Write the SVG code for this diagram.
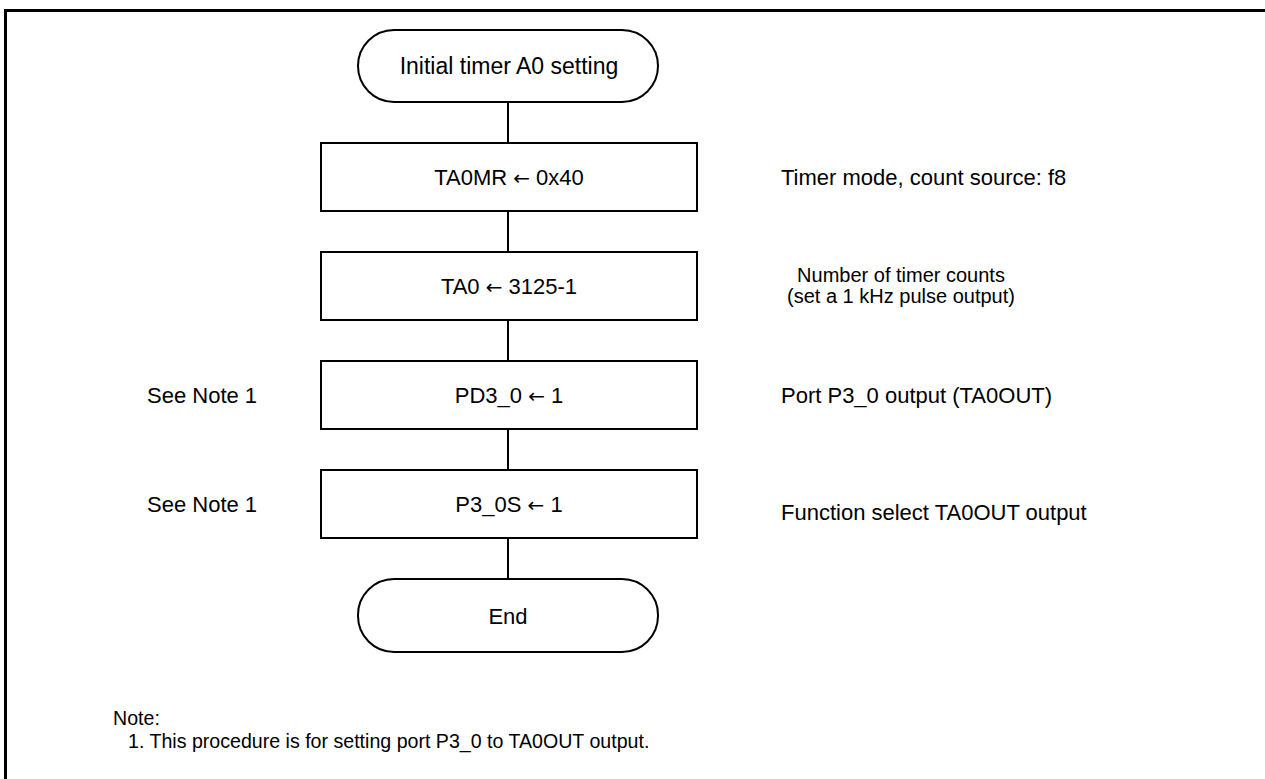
<svg xmlns="http://www.w3.org/2000/svg" width="1265" height="779" viewBox="0 0 1265 779">
<style>
.t{font-family:"Liberation Sans",Arial,sans-serif;font-size:22px;fill:#000}
.m{font-size:20px}
.n{font-family:"Liberation Sans",Arial,sans-serif;font-size:19.6px;fill:#000}
.c{text-anchor:middle}
.a{font-family:"DejaVu Sans",sans-serif;font-size:20px}
.s{fill:#fff;stroke:#000;stroke-width:2}
.ln{stroke:#000;stroke-width:2;fill:none}
</style>
<rect x="0" y="0" width="1265" height="779" fill="#fff"/>
<path d="M5.5,779 V10.5 H1265" fill="none" stroke="#000" stroke-width="3"/>
<g id="connectors">
<line class="ln" x1="508" y1="102" x2="508" y2="143"/>
<line class="ln" x1="508" y1="211" x2="508" y2="252"/>
<line class="ln" x1="508" y1="320" x2="508" y2="361"/>
<line class="ln" x1="508" y1="429" x2="508" y2="470"/>
<line class="ln" x1="508" y1="538" x2="508" y2="579"/>
</g>
<g id="start">
<rect class="s" x="358" y="30" width="300" height="72" rx="36" ry="36"/>
<text class="t c" x="509" y="74" style="font-size:23px">Initial timer A0 setting</text>
</g>
<g id="box1">
<rect class="s" x="321" y="143" width="376" height="68"/>
<text class="t c" x="509" y="185">TA0MR <tspan class="a">←</tspan> 0x40</text>
</g>
<g id="box2">
<rect class="s" x="321" y="252" width="376" height="68"/>
<text class="t c" x="509" y="294">TA0 <tspan class="a">←</tspan> 3125-1</text>
</g>
<g id="box3">
<rect class="s" x="321" y="361" width="376" height="68"/>
<text class="t c" x="509" y="403">PD3_0 <tspan class="a">←</tspan> 1</text>
</g>
<g id="box4">
<rect class="s" x="321" y="470" width="376" height="68"/>
<text class="t c" x="509" y="512">P3_0S <tspan class="a">←</tspan> 1</text>
</g>
<g id="end">
<rect class="s" x="358" y="579" width="300" height="73" rx="36" ry="36"/>
<text class="t c" x="508" y="624">End</text>
</g>
<g id="labels">
<text class="t" x="781" y="185">Timer mode, count source: f8</text>
<text class="t c m" x="901" y="282">Number of timer counts</text>
<text class="t c m" x="901" y="303">(set a 1 kHz pulse output)</text>
<text class="t" x="781" y="403">Port P3_0 output (TA0OUT)</text>
<text class="t" x="781" y="520">Function select TA0OUT output</text>
<text class="t" x="147" y="403">See Note 1</text>
<text class="t" x="147" y="512">See Note 1</text>
<text class="n" x="113" y="725">Note:</text>
<text class="n" x="128" y="748">1. This procedure is for setting port P3_0 to TA0OUT output.</text>
</g>
</svg>
